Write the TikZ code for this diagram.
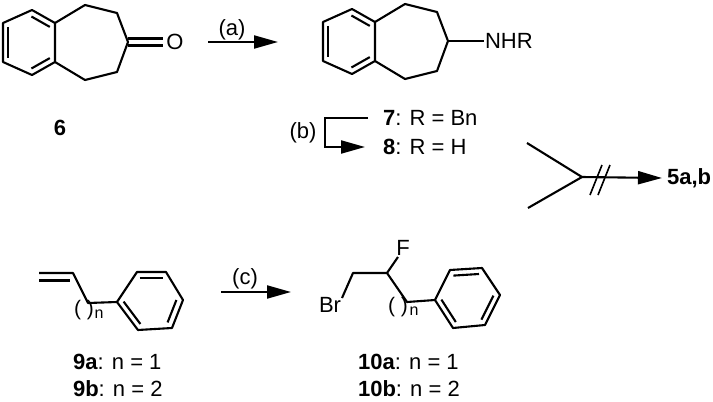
\documentclass[tikz,border=0pt]{standalone}
\usepackage{fontspec}
\setmainfont{Liberation Sans}
\usetikzlibrary{arrows.meta,calc}
\begin{document}
\begin{tikzpicture}[x=1pt,y=-1pt,line width=2.1pt,line join=round,
  lbl/.style={font=\fontsize{22}{24}\selectfont,inner sep=0pt},
  sm/.style={font=\fontsize{21}{22}\selectfont,inner sep=0pt},
  rxn/.style={-{Triangle[length=24pt,width=13pt]}}]
\useasboundingbox (0,0) rectangle (713,402);
% ---- compound 6
\foreach \p/\x/\y in {a/3/23,b/32/10,c/55/23,d/55/62,e/32/75,f/3/62,g/85/5,h/117/13,i/128/42,j/117/72,k/85/80}{\coordinate (s\p) at (\x,\y);}
\coordinate (sC) at (29,42.5);
\draw (sa)--(sb)--(sc)--(sd)--(se)--(sf)--cycle;
\draw ($(sa)!.2!(sC)$)--($(sf)!.2!(sC)$);
\draw ($(sb)!.2!(sC)$)--($(sc)!.2!(sC)$);
\draw ($(sd)!.2!(sC)$)--($(se)!.2!(sC)$);
\draw (sc)--(sg)--(sh)--(si)--(sj)--(sk)--(sd);
\node[lbl] (O) at (175,42) {O};
\draw ($(si)+(0,-3.5)$)--($(O.west)+(-2,-3.5)$);
\draw ($(si)+(0,3.5)$)--($(O.west)+(-2,3.5)$);
\node[lbl,font=\fontsize{22}{24}\selectfont\bfseries] (l6) at (60,128) {6};
% arrow a
\coordinate (a1) at (208,42); \coordinate (a2) at (278,42);
\draw[rxn] (a1)--(a2);
\node[lbl] (la) at (232,30) {(a)};
% ---- compound 7
\begin{scope}[shift={(320,-1)}]
\foreach \p/\x/\y in {a/3/23,b/32/10,c/55/23,d/55/62,e/32/75,f/3/62,g/85/5,h/117/13,i/128/42,j/117/72,k/85/80}{\coordinate (t\p) at (\x,\y);}
\coordinate (tC) at (29,42.5);
\end{scope}
\draw (ta)--(tb)--(tc)--(td)--(te)--(tf)--cycle;
\draw ($(ta)!.2!(tC)$)--($(tf)!.2!(tC)$);
\draw ($(tb)!.2!(tC)$)--($(tc)!.2!(tC)$);
\draw ($(td)!.2!(tC)$)--($(te)!.2!(tC)$);
\draw (tc)--(tg)--(th)--(ti)--(tj)--(tk)--(td);
\node[lbl,anchor=west] (NHR) at (484,41) {NHR};
\draw (ti)--(NHR.west);
\node[lbl,anchor=west] (l7) at (382,118) {\textbf{7}: R = Bn};
\node[lbl,anchor=west] (l8) at (382,147) {\textbf{8}: R = H};
\coordinate (b1) at (368,118); \coordinate (b2) at (325,118); \coordinate (b3) at (325,147); \coordinate (b4) at (365,147);
\draw[rxn,line join=miter] (b1)--(b2)--(b3)--(b4);
\node[lbl] (lb) at (303,133) {(b)};
% ---- fragment
\coordinate (f1) at (527,143); \coordinate (f2) at (582,177); \coordinate (f3) at (528,208);
\draw (f1)--(f2)--(f3);
\node[lbl,anchor=west,font=\fontsize{22}{24}\selectfont\bfseries] (p5) at (666,178) {5a,b};
\draw[rxn] (f2)--($(p5.west)+(-4,0)$);
\coordinate (x1) at (590,195); \coordinate (x2) at (602,165);
\coordinate (x3) at (598,195); \coordinate (x4) at (610,165);
\draw[line width=1.6pt] (x1)--(x2) (x3)--(x4);
% ---- compound 9
\foreach \p/\x/\y in {a/39/273,b/73/273,c/88/303,d/117/302,e/137/272,f/166/272,g/183/300,h/172/328,i/138/330}{\coordinate (n\p) at (\x,\y);}
\coordinate (nC) at (150,300);
\draw (na)--(nb)--(nc)--(nd);
\draw ($(na)+(0,7.5)$)--($(nb)+(-3,7.5)$);
\draw (nd)--(ne)--(nf)--(ng)--(nh)--(ni)--cycle;
\draw ($(ne)!.2!(nC)$)--($(nf)!.2!(nC)$);
\draw ($(ng)!.2!(nC)$)--($(nh)!.2!(nC)$);
\draw ($(ni)!.2!(nC)$)--($(nd)!.2!(nC)$);
\node[sm] (par9) at (84,310) {(\hspace{6pt})};
\node[sm,font=\fontsize{16}{18}\selectfont] (n9) at (99,314) {n};
\coordinate (c1) at (221,292); \coordinate (c2) at (291,292);
\draw[rxn] (c1)--(c2);
\node[lbl] (lc) at (245,279) {(c)};
\node[lbl,anchor=west] (l9a) at (72,362) {\textbf{9a}: n = 1};
\node[lbl,anchor=west] (l9b) at (72,389) {\textbf{9b}: n = 2};
% ---- compound 10
\node[lbl] (Br) at (330,305) {Br};
\node[lbl] (F) at (403,248) {F};
\foreach \p/\x/\y in {a/342/298,b/353/273,c/387/273,d/407/302,e/435/300,f/450/270,g/482/268,h/500/295,i/485/325,j/453/328}{\coordinate (m\p) at (\x,\y);}
\coordinate (mC) at (467,298);
\coordinate (mF) at (398,257);
\draw (ma)--(mb)--(mc)--(md)--(me);
\draw (mc)--(mF);
\draw (me)--(mf)--(mg)--(mh)--(mi)--(mj)--cycle;
\draw ($(mf)!.2!(mC)$)--($(mg)!.2!(mC)$);
\draw ($(mh)!.2!(mC)$)--($(mi)!.2!(mC)$);
\draw ($(mj)!.2!(mC)$)--($(me)!.2!(mC)$);
\node[sm] (par10) at (398,307) {(\hspace{6pt})};
\node[sm,font=\fontsize{16}{18}\selectfont] (n10) at (414,311) {n};
\node[lbl,anchor=west] (l10a) at (357,362) {\textbf{10a}: n = 1};
\node[lbl,anchor=west] (l10b) at (357,389) {\textbf{10b}: n = 2};
\end{tikzpicture}
\end{document}
